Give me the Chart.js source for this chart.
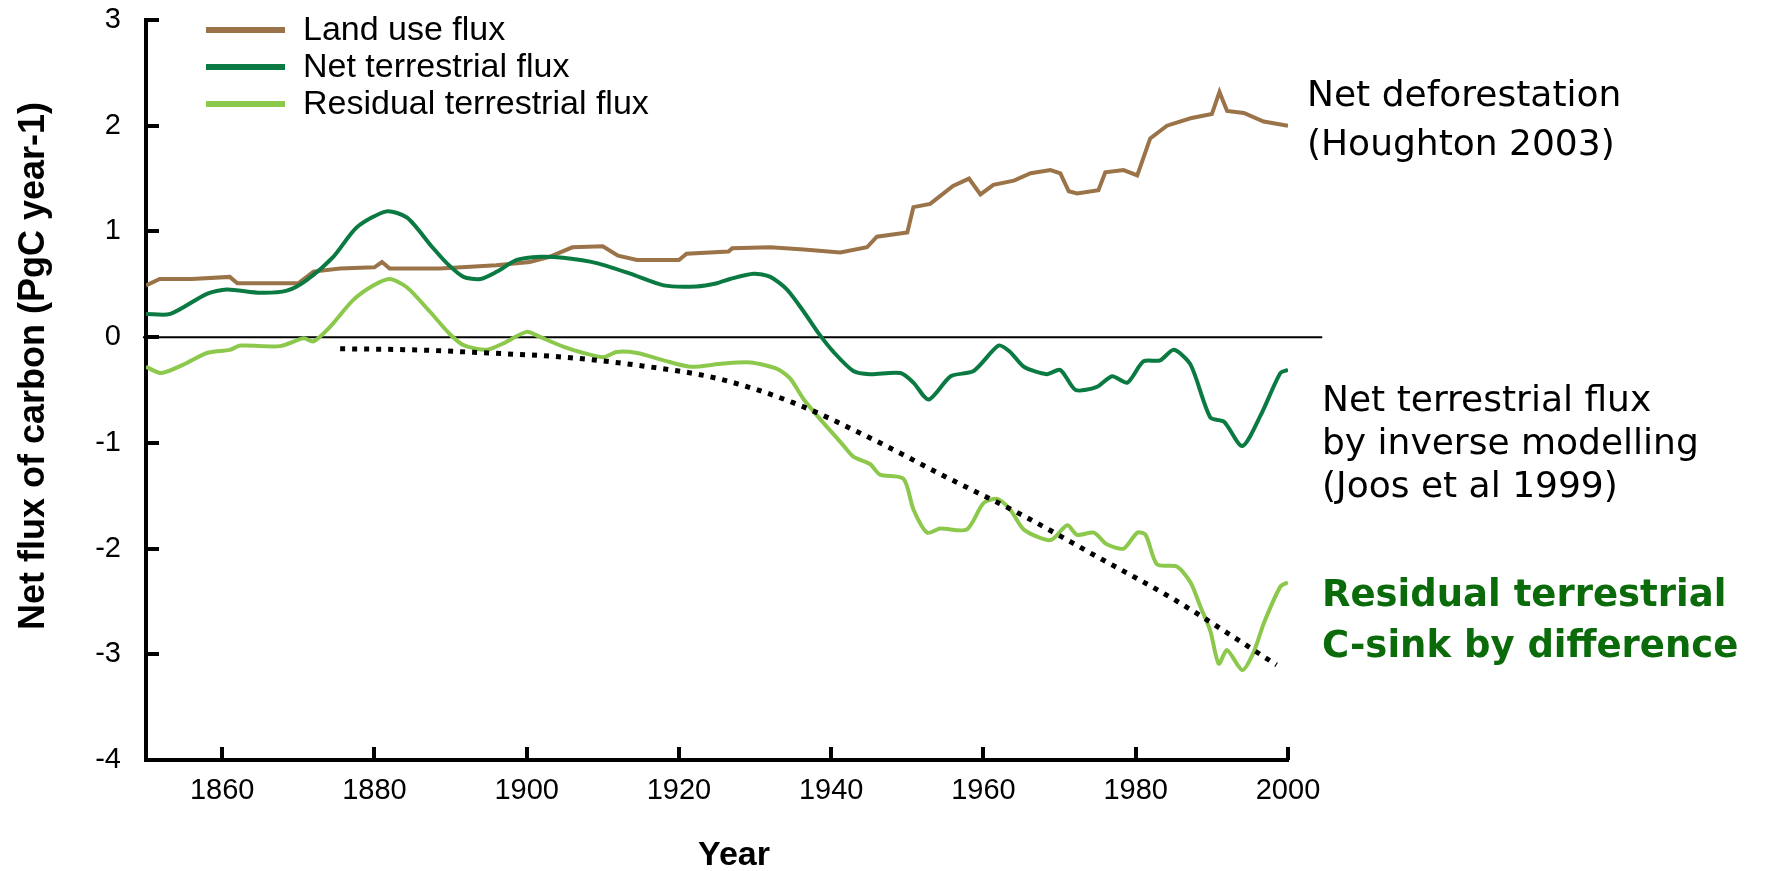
<!DOCTYPE html>
<html>
<head>
<meta charset="utf-8">
<script src="https://cdn.jsdelivr.net/npm/chart.js@4.4.0/dist/chart.umd.min.js"></script>
<style>
  html, body { margin: 0; padding: 0; background: #ffffff; overflow: hidden; }
  canvas { display: block; }
</style>
</head>
<body>
<canvas id="flux" width="1771" height="871"></canvas>
<script>
// Land use flux (Houghton 2003), PgC per year
const landUseYears = [1850, 1851.8, 1856, 1861, 1862, 1870, 1872, 1875.5, 1880, 1881, 1882, 1888.6,
  1896, 1900.4, 1903, 1906, 1910, 1912, 1914.5, 1920, 1921, 1926.5, 1927, 1932, 1936.4, 1941.2,
  1944.7, 1946, 1950, 1950.8, 1953, 1956, 1958.1, 1959.6, 1961.3, 1964, 1966.2, 1968.8, 1970.1,
  1971.2, 1972.3, 1975.1, 1976, 1978.4, 1980.2, 1981.9, 1984.1, 1987.2, 1990, 1991, 1992, 1994.2,
  1996.8, 2000];
const landUseFlux = [0.49, 0.55, 0.55, 0.57, 0.51, 0.51, 0.62, 0.65, 0.66, 0.71, 0.65, 0.65,
  0.68, 0.71, 0.76, 0.85, 0.86, 0.77, 0.73, 0.73, 0.79, 0.81, 0.84, 0.85, 0.83, 0.80,
  0.85, 0.95, 0.99, 1.23, 1.26, 1.43, 1.50, 1.35, 1.44, 1.48, 1.55, 1.58, 1.55,
  1.38, 1.36, 1.39, 1.56, 1.58, 1.53, 1.88, 2.00, 2.07, 2.11, 2.32, 2.14, 2.12,
  2.04, 2.00];

// Net terrestrial flux by inverse modelling (Joos et al 1999)
const netYears = [1850, 1853.2, 1858, 1860.6, 1865, 1868.5, 1871.1, 1874.6, 1877.7, 1881.6, 1884.3,
  1887.5, 1889.5, 1891.7, 1893.9, 1896.1, 1898.7, 1901.8, 1904.8, 1909.2, 1913.6, 1918, 1922.3,
  1925, 1926.7, 1929.8, 1932, 1934.2, 1936.4, 1938.3, 1940.3, 1942.9, 1945.1, 1949.1, 1950.8,
  1952.8, 1955.7, 1958.7, 1962, 1963.5, 1965.3, 1968.3, 1970.1, 1972.1, 1974.9, 1976.9, 1978.9,
  1981, 1983.2, 1985, 1987.2, 1989.8, 1991.6, 1994, 1996.4, 1999, 2000];
const netFlux = [0.22, 0.22, 0.41, 0.45, 0.42, 0.44, 0.54, 0.76, 1.04, 1.19, 1.13,
  0.86, 0.70, 0.57, 0.55, 0.62, 0.73, 0.76, 0.75, 0.70, 0.60, 0.49, 0.48,
  0.51, 0.55, 0.60, 0.57, 0.45, 0.24, 0.04, -0.14, -0.32, -0.35, -0.34, -0.43,
  -0.59, -0.37, -0.32, -0.08, -0.14, -0.28, -0.35, -0.31, -0.50, -0.47, -0.37, -0.43,
  -0.23, -0.22, -0.12, -0.26, -0.76, -0.80, -1.03, -0.74, -0.34, -0.31];

// Residual terrestrial flux (net minus land use)
const residualYears = [1850, 1852, 1854.9, 1858, 1861, 1862.4, 1867.6, 1870.7, 1872, 1874.2, 1877.2,
  1879.9, 1882, 1884.3, 1887.3, 1889.9, 1891.7, 1894.7, 1896.9, 1900, 1901.8, 1904.8, 1907,
  1910.1, 1911.8, 1914.5, 1918, 1921.5, 1925.8, 1929.4, 1932.9, 1934.6, 1936.4, 1938.6, 1941.2,
  1942.9, 1945.1, 1946.4, 1949.5, 1950.8, 1952.6, 1954.3, 1957.8, 1960, 1961.8, 1963.5, 1965.3,
  1968.8, 1971, 1972.3, 1974.5, 1976.2, 1978.4, 1980.2, 1981.3, 1982.8, 1985.4, 1987.2, 1988.5,
  1989.8, 1990.9, 1992, 1994, 1995.5, 1996.8, 1999, 2000];
const residualFlux = [-0.28, -0.34, -0.26, -0.15, -0.12, -0.08, -0.085, -0.01, -0.04, 0.10, 0.35,
  0.49, 0.55, 0.47, 0.24, 0.03, -0.075, -0.12, -0.06, 0.05, 0.0, -0.09, -0.14,
  -0.19, -0.14, -0.15, -0.22, -0.28, -0.25, -0.24, -0.30, -0.39, -0.59, -0.78, -0.99,
  -1.13, -1.20, -1.30, -1.34, -1.63, -1.85, -1.81, -1.82, -1.57, -1.53, -1.63, -1.82,
  -1.92, -1.78, -1.87, -1.85, -1.96, -2.00, -1.85, -1.87, -2.15, -2.17, -2.32, -2.55,
  -2.78, -3.09, -2.96, -3.15, -2.98, -2.71, -2.36, -2.32];

// Dotted trend of the residual sink
const trendYears = [1875.5, 1885, 1895, 1905, 1915, 1925, 1935, 1945, 1955, 1965, 1975, 1985, 1998.5];
const trendFlux = [-0.11, -0.12, -0.15, -0.19, -0.27, -0.39, -0.62, -0.95, -1.32, -1.68, -2.08, -2.48, -3.10];

// Zero reference line
const zeroYears = [1849.6, 2004.5];
const zeroFlux = [0, 0];

// Axis ticks
const yearTicks = [1860, 1880, 1900, 1920, 1940, 1960, 1980, 2000];
const fluxTicks = [-4, -3, -2, -1, 0, 1, 2, 3];

const seriesLabels = ['Land use flux', 'Net terrestrial flux', 'Residual terrestrial flux'];

const annotations = [
  { lines: ['Net deforestation', '(Houghton 2003)'], x: 1307, y: 97, step: 49, bold: false, color: '#000000' },
  { lines: ['Net terrestrial flux', 'by inverse modelling', '(Joos et al 1999)'], x: 1322, y: 402, step: 43, bold: false, color: '#000000' },
  { lines: ['Residual terrestrial', 'C-sink by difference'], x: 1322, y: 596, step: 51, bold: true, color: '#0b6b0b' }
];

const toPoints = (xs, ys) => xs.map((x, i) => ({ x: x, y: ys[i] }));

const BROWN = '#9a7349';
const DARK_GREEN = '#0b7a42';
const LIGHT_GREEN = '#8cc84b';
const SANS = '"Liberation Sans", Arial, sans-serif';

// Inward tick marks, legend box, axis titles and side notes
const decorations = {
  id: 'decorations',
  afterDraw(chart) {
    const ctx = chart.ctx;
    const xs = chart.scales.x, ys = chart.scales.y;
    const area = chart.chartArea;
    ctx.save();
    ctx.strokeStyle = '#000';
    ctx.lineWidth = 4;
    ctx.lineCap = 'butt';
    yearTicks.forEach(v => {
      const px = Math.round(xs.getPixelForValue(v));
      ctx.beginPath();
      ctx.moveTo(px, area.bottom);
      ctx.lineTo(px, area.bottom - 13);
      ctx.stroke();
    });
    fluxTicks.forEach(v => {
      const py = Math.round(ys.getPixelForValue(v));
      ctx.beginPath();
      ctx.moveTo(area.left, py);
      ctx.lineTo(area.left + 13, py);
      ctx.stroke();
    });

    // legend
    const legendRows = [30, 67, 104];
    ctx.font = '34px ' + SANS;
    ctx.textBaseline = 'middle';
    ctx.textAlign = 'left';
    seriesLabels.forEach((label, i) => {
      const ds = chart.data.datasets[i];
      ctx.strokeStyle = ds.borderColor;
      ctx.lineWidth = 6;
      ctx.beginPath();
      ctx.moveTo(206, legendRows[i]);
      ctx.lineTo(285, legendRows[i]);
      ctx.stroke();
      ctx.fillStyle = '#000';
      ctx.fillText(ds.label, 303, legendRows[i] + 1);
    });

    // axis titles
    ctx.fillStyle = '#000';
    ctx.textAlign = 'center';
    ctx.textBaseline = 'middle';
    ctx.font = 'bold 34px ' + SANS;
    ctx.fillText('Year', 734, 856);

    ctx.save();
    ctx.translate(34, 366);
    ctx.rotate(-Math.PI / 2);
    ctx.font = 'bold 36px ' + SANS;
    ctx.fillText('Net flux of carbon (PgC year-1)', 0, 0);
    ctx.restore();

    // side notes
    annotations.forEach(a => {
      ctx.font = (a.bold ? 'bold 37px ' : '36px ') + '"DejaVu Sans", sans-serif';
      ctx.fillStyle = a.color;
      ctx.textAlign = 'left';
      ctx.textBaseline = 'middle';
      a.lines.forEach((t, k) => ctx.fillText(t, a.x, a.y + k * a.step));
    });
    ctx.restore();
  }
};

new Chart(document.getElementById('flux'), {
  type: 'line',
  data: {
    datasets: [
      { label: seriesLabels[0], data: toPoints(landUseYears, landUseFlux), borderColor: BROWN,
        borderWidth: 4, pointRadius: 0, tension: 0, order: 3 },
      { label: seriesLabels[1], data: toPoints(netYears, netFlux), borderColor: DARK_GREEN,
        borderWidth: 4, pointRadius: 0, tension: 0.25, order: 2 },
      { label: seriesLabels[2], data: toPoints(residualYears, residualFlux), borderColor: LIGHT_GREEN,
        borderWidth: 4, pointRadius: 0, tension: 0.25, order: 1 },
      { label: 'trend', data: toPoints(trendYears, trendFlux), borderColor: '#000000',
        borderWidth: 5, borderDash: [5, 7], borderCapStyle: 'butt', pointRadius: 0,
        cubicInterpolationMode: 'monotone', order: 0 },
      { label: 'zero', data: toPoints(zeroYears, zeroFlux), borderColor: '#000000',
        borderWidth: 2, pointRadius: 0, clip: false, order: 4 }
    ]
  },
  options: {
    responsive: false,
    animation: false,
    devicePixelRatio: 1,
    layout: { padding: { top: 20, right: 483, left: 0, bottom: 0 } },
    plugins: { legend: { display: false }, tooltip: { enabled: false } },
    scales: {
      x: {
        type: 'linear', min: 1850, max: 2000,
        afterBuildTicks: s => { s.ticks = yearTicks.map(v => ({ value: v })); },
        afterFit: s => { s.height = 111; s.paddingLeft = 0; s.paddingRight = 0; },
        grid: { display: false, drawTicks: false },
        border: { display: true, width: 4, color: '#000' },
        ticks: { color: '#000', padding: 14, maxRotation: 0,
          callback: v => String(v),
          font: { family: SANS, size: 29 } }
      },
      y: {
        type: 'linear', min: -4, max: 3,
        afterBuildTicks: s => { s.ticks = fluxTicks.map(v => ({ value: v })); },
        afterFit: s => { s.width = 146; s.paddingTop = 0; s.paddingBottom = 0; },
        grid: { display: false, drawTicks: false },
        border: { display: true, width: 4, color: '#000' },
        ticks: { color: '#000', padding: 25,
          callback: v => String(v),
          font: { family: SANS, size: 29 } }
      }
    }
  },
  plugins: [decorations]
});
</script>
</body>
</html>
